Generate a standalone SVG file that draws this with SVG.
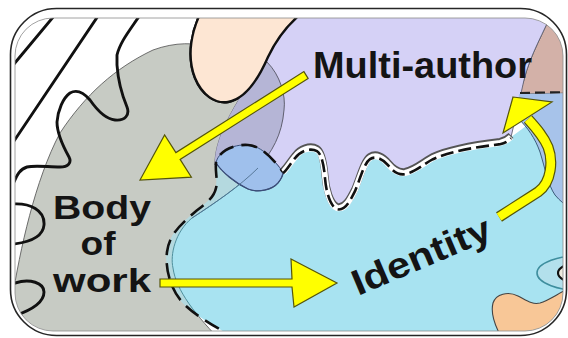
<svg xmlns="http://www.w3.org/2000/svg" width="568" height="338" viewBox="0 0 568 338">
<style>
.lbl{font-family:"Liberation Sans",Arial,sans-serif;font-weight:bold;font-size:36px;fill:#141414}
.lbl2{font-family:"Liberation Sans",Arial,sans-serif;font-weight:bold;font-size:33px;fill:#141414}
.arrow{fill:#ffff00;stroke:#55550a;stroke-width:1.2;stroke-linejoin:miter}
.blk{fill:none;stroke:#111;stroke-width:2.9;stroke-linecap:round;stroke-linejoin:round}
</style>
<defs>
<clipPath id="clip-content"><rect x="15" y="18" width="548" height="313" rx="38"/></clipPath>
<clipPath id="clip-purple"><path d="M 266,10 L 553,10 C 545,30 530,55 524,80 L 515,120 L 511,137 C 508,140 505,142 500,143 C 475,146 450,150 433,158 C 425,162 415,171 405,173 C 398,174 393,170 388,164 C 383,158 376,154 370,158 C 364,162 360,178 355,190 C 350,200 345,210 337,208 C 330,205 326,190 325,177 C 324,165 322,153 317,150 C 310,146 300,150 295,157 C 290,163 286,170 283,172 C 274,160 262,146 248,145 C 232,144 218,152 215,165 C 214,135 240,95 266,60 Z"/></clipPath>
<clipPath id="clip-cyan"><path d="M 240,345 L 240,340 C 220,330 195,316 182,302 C 170,288 165,268 167,252 C 169,235 180,225 195,212 C 205,204 214,198 216,188 C 218,180 215,172 216,163 C 218,152 232,144 248,145 C 262,146 274,160 283,172 C 286,170 290,163 295,157 C 300,150 310,146 317,150 C 322,153 324,165 325,177 C 326,190 330,205 337,208 C 345,210 350,200 355,190 C 360,178 364,162 370,158 C 376,154 383,158 388,164 C 393,170 398,174 405,173 C 415,171 425,162 433,158 C 450,150 475,146 500,143 C 505,142 508,140 511,137 C 525,128 545,110 570,95 L 570,345 Z"/></clipPath>
</defs>

<rect width="568" height="338" fill="#ffffff"/>

<g clip-path="url(#clip-content)">
  <g id="background">
    <rect x="0" y="0" width="568" height="338" fill="#ffffff"/>
    <path class="blk" d="M 14,64 L 54,16"/>
    <path class="blk" d="M 14,141 L 98,16"/>
  </g>

  <g id="node-body-of-work">
    <path d="M 5,345 L 12,300 C 20,250 35,180 60,133 C 85,95 115,68 153,50 C 175,42 195,42 215,48 C 240,55 258,58 267,62 C 280,75 286,95 284,110 C 282,135 272,152 258,168 C 240,186 215,203 192,218 C 175,232 170,255 173,268 C 176,290 195,315 225,345 Z" fill="#c7cbc4" stroke="#5f5f5f" stroke-width="0.9"/>
    <path class="blk" d="M 140,15 C 130,30 120,42 117,55 L 117,65 C 118,80 122,95 127,107 C 130,115 125,121 115,120 C 105,119 97,110 90,100 C 84,93 77,89 70,93 C 63,98 58,110 57,122 C 57,135 64,148 69,157 C 72,163 68,167 60,167 C 48,167 35,165 27,167 C 20,169 17,175 14,182"/>
    <path class="blk" d="M 13,204 C 30,203 45,210 44,225 C 43,237 30,242 14,244"/>
    <path class="blk" d="M 15,283 C 30,278 44,283 44,292 C 44,302 32,310 14,316"/>
    <text class="lbl2" x="102" y="219" text-anchor="middle" textLength="98" lengthAdjust="spacingAndGlyphs">Body</text>
    <text class="lbl2" x="98" y="255" text-anchor="middle" textLength="35" lengthAdjust="spacingAndGlyphs">of</text>
    <text class="lbl2" x="102" y="292" text-anchor="middle" textLength="98" lengthAdjust="spacingAndGlyphs">work</text>
  </g>

  <g id="peach-region">
    <path d="M 201,12 C 192,30 186,55 195,78 C 202,95 215,104 228,102 C 245,99 258,80 268,57 C 276,40 287,25 303,12 Z" fill="#fde6d3" stroke="#111" stroke-width="2.4"/>
  </g>

  <g id="brown-region">
    <path d="M 553,10 C 545,30 530,55 524,80 L 519,94 L 572,93 L 572,10 Z" fill="#d3b1a8" stroke="#5a5a5a" stroke-width="0.9"/>
  </g>

  <g id="node-multi-author">
    <path d="M 266,10 L 553,10 C 545,30 530,55 524,80 L 515,120 L 511,137 C 508,140 505,142 500,143 C 475,146 450,150 433,158 C 425,162 415,171 405,173 C 398,174 393,170 388,164 C 383,158 376,154 370,158 C 364,162 360,178 355,190 C 350,200 345,210 337,208 C 330,205 326,190 325,177 C 324,165 322,153 317,150 C 310,146 300,150 295,157 C 290,163 286,170 283,172 C 274,160 262,146 248,145 C 232,144 218,152 215,165 C 214,135 240,95 266,60 Z" fill="#d5d1f6" stroke="#5f5f6f" stroke-width="0.9"/>
    <path clip-path="url(#clip-purple)" d="M 5,345 L 12,300 C 20,250 35,180 60,133 C 85,95 115,68 153,50 C 175,42 195,42 215,48 C 240,55 258,58 267,62 C 280,75 286,95 284,110 C 282,135 272,152 258,168 C 240,186 215,203 192,218 C 175,232 170,255 173,268 C 176,290 195,315 225,345 Z" fill="#b5b5d6" stroke="#5f5f6f" stroke-width="1"/>
    <path d="M 201,12 C 192,30 186,55 195,78 C 202,95 215,104 228,102 C 245,99 258,80 268,57 C 276,40 287,25 303,12 Z" fill="#fde6d3" stroke="#111" stroke-width="2.4"/>
  </g>

  <g id="node-identity">
    <path d="M 240,345 L 240,340 C 220,330 195,316 182,302 C 170,288 165,268 167,252 C 169,235 180,225 195,212 C 205,204 214,198 216,188 C 218,180 215,172 216,163 C 218,152 232,144 248,145 C 262,146 274,160 283,172 C 286,170 290,163 295,157 C 300,150 310,146 317,150 C 322,153 324,165 325,177 C 326,190 330,205 337,208 C 345,210 350,200 355,190 C 360,178 364,162 370,158 C 376,154 383,158 388,164 C 393,170 398,174 405,173 C 415,171 425,162 433,158 C 450,150 475,146 500,143 C 505,142 508,140 511,137 C 525,128 545,110 570,95 L 570,345 Z" fill="#a8e3f1"/>
    <path clip-path="url(#clip-cyan)" d="M 5,345 L 12,300 C 20,250 35,180 60,133 C 85,95 115,68 153,50 C 175,42 195,42 215,48 C 240,55 258,58 267,62 C 280,75 286,95 284,110 C 282,135 272,152 258,168 C 240,186 215,203 192,218 C 175,232 170,255 173,268 C 176,290 195,315 225,345 Z" fill="#b4d9df" stroke="#4f8f9c" stroke-width="1"/>
    <path d="M 216,163 C 222,172 235,183 248,189 C 258,193 272,190 278,183 C 282,178 283,175 283,172 C 274,160 262,146 248,145 C 232,144 218,152 216,163 Z" fill="#9fc0ec" stroke="#3b4d78" stroke-width="1"/>
    <path d="M 216,163 C 222,172 235,183 248,189 C 258,193 272,190 278,183 C 282,178 283,175 283,172" fill="none" stroke="#3b4d78" stroke-width="1.3"/>
    <path d="M 258,168 C 240,186 215,203 192,218" fill="none" stroke="#4f6f8f" stroke-width="0.9"/>
    <path d="M 240,340 C 220,330 195,316 182,302 C 170,288 165,268 167,252 C 169,235 180,225 195,212 C 205,204 214,198 216,188 C 218,180 215,172 216,163 C 218,152 232,144 248,145 C 262,146 274,160 283,172" fill="none" stroke="#111" stroke-width="2.6" stroke-dasharray="16 8"/>
    <g transform="translate(0,-1.5)">
      <path d="M 283,172 C 286,170 290,163 295,157 C 300,150 310,146 317,150 C 322,153 324,165 325,177 C 326,190 330,205 337,208 C 345,210 350,200 355,190 C 360,178 364,162 370,158 C 376,154 383,158 388,164 C 393,170 398,174 405,173 C 415,171 425,162 433,158 C 450,150 475,146 500,143 C 505,142 508,140 511,137" fill="none" stroke="#555" stroke-width="7"/>
    </g>
    <path d="M 283,172 C 286,170 290,163 295,157 C 300,150 310,146 317,150 C 322,153 324,165 325,177 C 326,190 330,205 337,208 C 345,210 350,200 355,190 C 360,178 364,162 370,158 C 376,154 383,158 388,164 C 393,170 398,174 405,173 C 415,171 425,162 433,158 C 450,150 475,146 500,143 C 505,142 508,140 511,137" fill="none" stroke="#ffffff" stroke-width="6"/>
    <g transform="translate(0,1.2)">
      <path d="M 283,172 C 286,170 290,163 295,157 C 300,150 310,146 317,150 C 322,153 324,165 325,177 C 326,190 330,205 337,208 C 345,210 350,200 355,190 C 360,178 364,162 370,158 C 376,154 383,158 388,164 C 393,170 398,174 405,173 C 415,171 425,162 433,158 C 450,150 475,146 500,143 C 505,142 508,140 511,137" fill="none" stroke="#111" stroke-width="2.6" stroke-dasharray="13 5"/>
    </g>
  </g>

  <g id="right-regions">
    <path d="M 519,94 L 572,93 L 572,209 C 565,205 560,201 555,195 C 548,185 545,168 540,152 C 535,138 528,128 517,117 Z" fill="#a7c3ea"/>
    <path d="M 517,117 C 528,128 535,138 540,152 C 545,168 548,185 555,195 C 560,201 565,205 572,209" fill="none" stroke="#3c5d7a" stroke-width="1"/>
    <path d="M 520,93 L 572,92" fill="none" stroke="#222" stroke-width="2.2" stroke-dasharray="10 5"/>
    <ellipse cx="585" cy="273" rx="48" ry="18" fill="#b3e0ec" stroke="#3e8e9e" stroke-width="1.6"/>
    <ellipse cx="590" cy="273" rx="32" ry="12" fill="#eceade" stroke="#111" stroke-width="2.2"/>
    <path d="M 503,340 C 497,330 490,315 493,303 C 496,294 508,291 518,296 C 526,300 532,305 540,303 C 550,300 560,292 572,287 L 572,340 Z" fill="#f8c797" stroke="#444" stroke-width="1.1"/>
  </g>

  <g id="labels">
    <text class="lbl" x="313" y="78" textLength="219" lengthAdjust="spacingAndGlyphs">Multi-author</text>
    <text class="lbl" x="0" y="0" text-anchor="middle" textLength="148" lengthAdjust="spacingAndGlyphs" transform="translate(426,267) rotate(-23)">Identity</text>
  </g>

  <g id="connectors">
    <polygon class="arrow" points="308.1,78.4 180.1,159.4 191.4,177.1 140,180 164.6,134.9 175.9,152.6 303.9,71.6"/>
    <polygon class="arrow" points="160,279 292,279 291,259 337,283 294,307 292,287 160,287"/>
    <path d="M 499,217 L 538,192 C 552,182 553,160 548,147 C 544,137 537,129 528,119" fill="none" stroke="#55550a" stroke-width="11"/>
    <path d="M 499,217 L 538,192 C 552,182 553,160 548,147 C 544,137 537,129 528,119" fill="none" stroke="#ffff00" stroke-width="8.6"/>
    <polygon class="arrow" points="513,97 552,102 503,133"/>
  </g>
</g>

<rect x="15" y="18" width="548" height="313" rx="38" fill="none" stroke="#8a8a8a" stroke-width="0.8"/>
<rect x="10.5" y="8.5" width="556" height="327" rx="46" fill="none" stroke="#262626" stroke-width="1.6"/>
</svg>
